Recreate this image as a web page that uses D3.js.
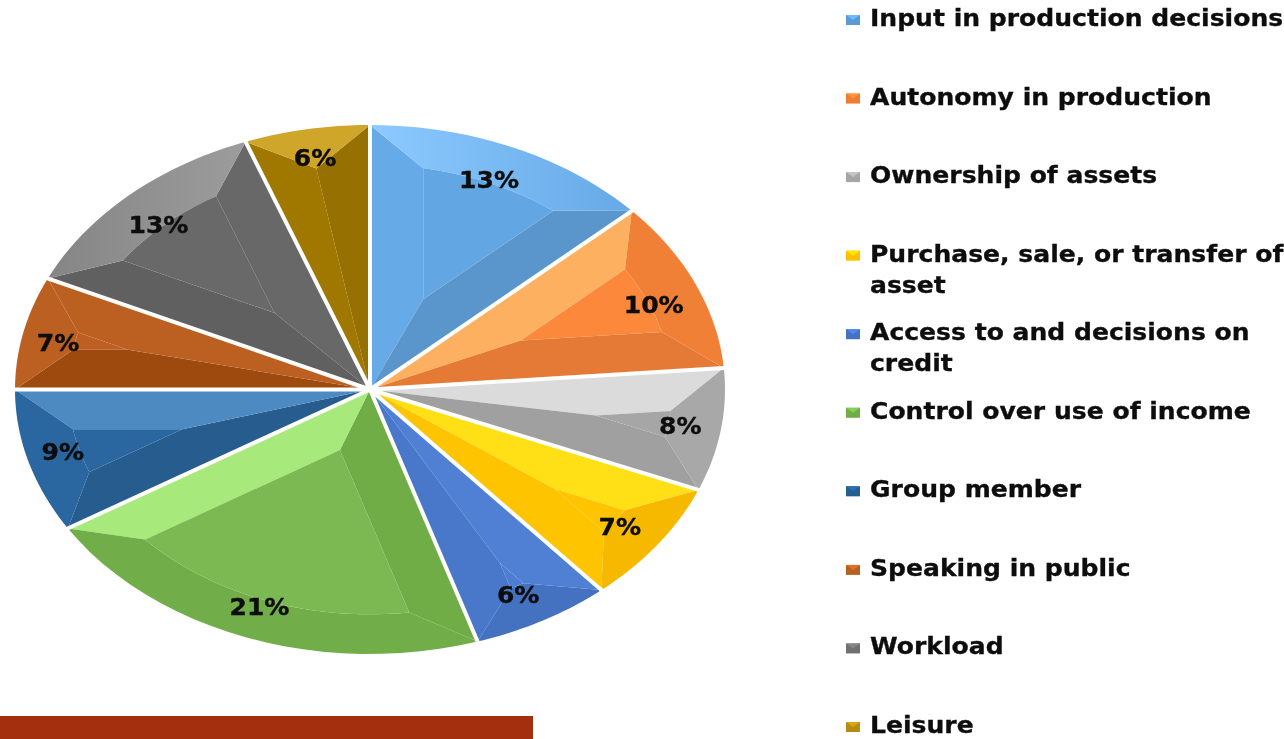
<!DOCTYPE html>
<html lang="en">
<head>
    <meta charset="UTF-8">
    <title>Pie</title>
    <script src="https://d3js.org/d3.v7.min.js"></script>
    <style>
        html, body { margin: 0; padding: 0; background: #fff; overflow: hidden; }
        text { font-family: "DejaVu Sans", sans-serif; font-weight: 700; fill: #0a0a0a; stroke: #0a0a0a; stroke-width: 0.3px; }
    </style>
</head>
<body>
<svg id="chart" width="1284" height="739"></svg>
<script>

    const categories = ["Input in production decisions", "Autonomy in production", "Ownership of assets",
        "Purchase, sale, or transfer of asset", "Access to and decisions on credit", "Control over use of income",
        "Group member", "Speaking in public", "Workload", "Leisure"];
    // wrapped legend lines, same order as categories
    const legendLines = [["Input in production decisions"], ["Autonomy in production"], ["Ownership of assets"],
        ["Purchase, sale, or transfer of", "asset"], ["Access to and decisions on", "credit"], ["Control over use of income"],
        ["Group member"], ["Speaking in public"], ["Workload"], ["Leisure"]];
    // slice sizes, they do not match the printed labels exactly
    const values = [13.2, 10.5, 7.5, 7.5, 6.4, 21.1, 8.8, 6.9, 12.4, 5.7];
    const labels = ["13%", "10%", "8%", "7%", "6%", "21%", "9%", "7%", "13%", "6%"];
    const legendColors = ["#5b9bd5", "#ed7d31", "#a5a5a5", "#ffc000", "#4472c4", "#70ad47", "#255e91", "#b85f22", "#707070", "#b58c12"];
    // bevel shades per slice: start edge, outer rim, end edge, middle
    const startShade = ["#66aae8", "#fdb060", "#dbdbdb", "#ffe015", "#4f80d3", "#70ad47", "#255c8e", "#9e480e", "#616161", "#a07800"];
    const rimShade = ["url(#rimBlue)", "#f08035", "#a8a8a8", "#f6b900", "#4472c0", "#71ae49", "#2a669f", "#bc6024", "url(#rimGrey)", "#cfa529"];
    const endShade = ["#5a96cb", "#e47a35", "#a0a0a0", "#ffc403", "#4878ca", "#a8e97b", "#4e8ac2", "#bc6024", "#676767", "#967000"];
    const midShade = ["#62a6e3", "#fb883b", "#a6a6a6", "#ffc403", "#4b7dd0", "#7cb952", "#2a669f", "#bd5f22", "#696969", "#a07800"];
    // label spots, slice-relative: radius and fraction across the slice
    const labelRadius = [0.86, 0.86, 0.885, 0.875, 0.882, 0.88, 0.897, 0.896, 0.862, 0.888];
    const labelAcross = [0.483, 0.55, 0.51, 0.525, 0.54, 0.505, 0.517, 0.456, 0.48, 0.51];

    const bevel = 0.15;
    const textStretch = 1.09;

    const x = d3.scaleLinear().domain([-1, 1]).range([15, 725]);
    const y = d3.scaleLinear().domain([-1, 1]).range([125, 654]);

    const svg = d3.select("#chart");
    const defs = svg.append("defs");
    defs.append("filter").attr("id", "soft").append("feGaussianBlur").attr("stdDeviation", 0.6);
    defs.append("filter").attr("id", "softText")
        .attr("x", "-5%").attr("y", "-20%").attr("width", "110%").attr("height", "140%")
        .append("feGaussianBlur").attr("stdDeviation", 0.4);

    function rimGradient(id, from, to) {
        const grad = defs.append("linearGradient").attr("id", id);
        grad.append("stop").attr("offset", "0%").attr("stop-color", from);
        grad.append("stop").attr("offset", "100%").attr("stop-color", to);
    }
    rimGradient("rimBlue", "#8ccaff", "#66a9e6");
    rimGradient("rimGrey", "#858585", "#9c9c9c");

    const pie = d3.pie().sort(null).value(d => d);
    const slices = pie(values);

    const polar = (a, r) => [r * Math.sin(a), -r * Math.cos(a)];
    const line = d3.line().x(d => x(d[0])).y(d => y(d[1]));
    const arcPts = (a0, a1, r) => d3.range(25).map(i => polar(a0 + (a1 - a0) * i / 24, r));

    const pieG = svg.append("g").attr("filter", "url(#soft)");

    slices.forEach((s, i) => {
        const a0 = s.startAngle, a1 = s.endAngle;
        const half = (a1 - a0) / 2;
        const inR = 1 - bevel;
        const off = Math.asin(bevel / inR);
        // narrow slices collapse so that the middle face disappears
        const c0 = Math.min(a0 + off, a0 + half), c1 = Math.max(a1 - off, a1 - half);
        const tip = polar(a0 + half, Math.min(bevel / Math.sin(half), inR));
        const inner = arcPts(c0, c1, inR);
        const outer = arcPts(a0, a1, 1);
        const o = [0, 0];

        const g = pieG.append("g");
        g.append("path").attr("d", line([o, outer[0], inner[0], tip])).attr("fill", startShade[i]);
        g.append("path").attr("d", line([o, tip, inner[24], outer[24]])).attr("fill", endShade[i]);
        g.append("path").attr("d", line(outer.concat(inner.slice().reverse()))).attr("fill", rimShade[i]);
        g.append("path").attr("d", line([tip].concat(inner))).attr("fill", midShade[i]);
    });

    // white gaps between the slices
    slices.forEach(s => {
        pieG.append("path")
            .attr("d", line([[0, 0], polar(s.startAngle, 1.01)]))
            .attr("stroke", "#fff").attr("stroke-width", 4).attr("fill", "none");
    });

    function labelPos(s, i) {
        const a = s.startAngle + (s.endAngle - s.startAngle) * labelAcross[i];
        return polar(a, labelRadius[i]);
    }

    svg.append("g").attr("filter", "url(#softText)").selectAll("text").data(slices).join("text")
        .attr("text-anchor", "middle")
        .attr("font-size", 23)
        .attr("transform", (s, i) => {
            const p = labelPos(s, i);
            return `translate(${x(p[0])},${y(p[1]) + 8}) scale(${textStretch},1)`;
        })
        .text((s, i) => labels[i]);

    // legend
    const legendY = d3.scalePoint().domain(categories).range([19, 726]);
    const legend = svg.append("g").selectAll("g").data(categories).join("g")
        .attr("transform", d => `translate(846,${legendY(d)})`);
    legend.append("rect").attr("x", 0).attr("y", -4).attr("width", 14).attr("height", 10)
        .attr("fill", (d, i) => legendColors[i]);
    legend.append("path").attr("d", "M0,-4H14L7,1Z")
        .attr("fill", (d, i) => d3.color(legendColors[i]).brighter(0.5));
    legend.each(function (d, i) {
        d3.select(this).append("g").attr("filter", "url(#softText)")
            .selectAll("text").data(legendLines[i]).join("text")
            .attr("transform", (t, j) => `translate(24,${7 + j * 31}) scale(${textStretch},1)`)
            .attr("font-size", 23)
            .text(t => t);
    });

    // red banner cut off by the bottom of the picture
    svg.append("rect").attr("x", 0).attr("y", 716).attr("width", 533).attr("height", 23).attr("fill", "#a32f0e");

</script>
</body>
</html>
